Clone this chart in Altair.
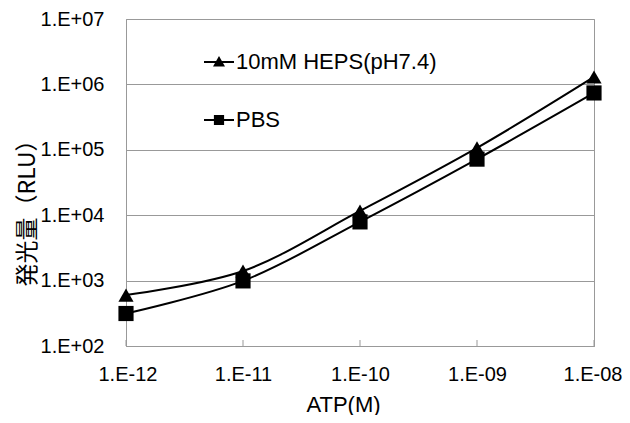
import altair as alt
import pandas as pd

# ---- data ----
atp = [1e-12, 1e-11, 1e-10, 1e-9, 1e-8]
hepes = [600, 1400, 11600, 107000, 1300000]
pbs = [314, 990, 7900, 72000, 740000]
series_names = ["10mM HEPS(pH7.4)", "PBS"]
x_ticks = [1e-12, 1e-11, 1e-10, 1e-9, 1e-8]
y_ticks = [1e2, 1e3, 1e4, 1e5, 1e6, 1e7]

rows = []
for s, vals in zip(series_names, [hepes, pbs]):
    for x, v in zip(atp, vals):
        rows.append({"atp": x, "rlu": v, "series": s})
df = pd.DataFrame(rows)
ticks_df = pd.DataFrame({"atp": x_ticks})

W, H = 468, 327
GRAY = "#999999"
LATIN = "Liberation Sans"

xscale = alt.Scale(type="log", domain=[x_ticks[0], x_ticks[-1]], nice=False)
yscale = alt.Scale(type="log", domain=[y_ticks[0], y_ticks[-1]], nice=False)

xlab = ("'1.E-' + (round(-log(datum.value)/LN10) < 10 ? '0' : '') + "
        "round(-log(datum.value)/LN10)")
ylab = "'1.E+0' + round(log(datum.value)/LN10)"

x_enc = alt.X(
    "atp:Q", scale=xscale,
    axis=alt.Axis(values=x_ticks, labelExpr=xlab, ticks=False, grid=False,
                  labelFlush=True, labelFlushOffset=28,
                  domainColor=GRAY, labelPadding=18,
                  title="ATP(M)", titleX=217, titleY=58, titleFontSize=22,
                  titleFont=LATIN, titleFontWeight="normal",
                  titleBaseline="middle"),
)
y_enc = alt.Y(
    "rlu:Q", scale=yscale,
    axis=alt.Axis(values=y_ticks, labelExpr=ylab, ticks=False, grid=True,
                  labelFlush=False, gridColor=GRAY, domainColor=GRAY,
                  labelPadding=22,
                  title="発光量（RLU）", titleFont="Noto Sans CJK JP",
                  titleFontSize=23, titleFontWeight="normal", titleLimit=400,
                  titleAngle=270, titleX=-99, titleY=188,
                  titleAlign="center", titleBaseline="middle"),
)

lines = alt.Chart(df).mark_line(
    interpolate="catmull-rom", color="black", strokeWidth=2
).encode(x=x_enc, y=y_enc, detail="series:N")

points = alt.Chart(df).mark_point(
    filled=True, color="black", size=230, opacity=1
).encode(
    x="atp:Q", y="rlu:Q",
    shape=alt.Shape("series:N",
                    scale=alt.Scale(domain=series_names, range=["triangle-up", "square"]),
                    legend=None),
)

# legend-only layer (no data rows drawn; domain is explicit)
# legend symbol = short line (thin filled bar) + marker
TRI = "M-2.5,-0.17H2.5V0.17H-2.5Z M0,-1L1,0.75L-1,0.75Z"
SQ = "M-2.5,-0.17H2.5V0.17H-2.5Z M-0.85,-0.85H0.85V0.85H-0.85Z"
legend_layer = alt.Chart(df).transform_filter("false").mark_point(
    filled=True, color="black", size=144, opacity=1
).encode(
    x="atp:Q", y="rlu:Q",
    shape=alt.Shape(
        "series:N",
        scale=alt.Scale(domain=series_names, range=[TRI, SQ]),
        legend=alt.Legend(
            title=None, orient="none", legendX=82, legendY=32, padding=0,
            labelFont=LATIN, labelFontSize=22, labelColor="black",
            labelLimit=400, labelOffset=6, rowPadding=36, symbolSize=144,
            symbolFillColor="black", symbolOpacity=1,
        ),
    ),
)

xticks = alt.Chart(ticks_df).mark_rule(color=GRAY, strokeWidth=1).encode(
    x="atp:Q", y=alt.value(H), y2=alt.value(H - 6)
)

chart = (
    alt.layer(lines, xticks, points, legend_layer)
    .resolve_scale(shape="independent")
    .resolve_legend(shape="independent")
    .properties(width=W, height=H,
                padding={"left": 118, "top": 11, "right": 28, "bottom": 69},
                autosize=alt.AutoSizeParams(type="none"))
    .configure_view(stroke=GRAY, strokeWidth=1)
    .configure_axis(labelFont=LATIN, labelFontSize=20, labelColor="black",
                    titleColor="black")
)

chart.save("out.html", embed_options={"renderer": "svg", "actions": False})
